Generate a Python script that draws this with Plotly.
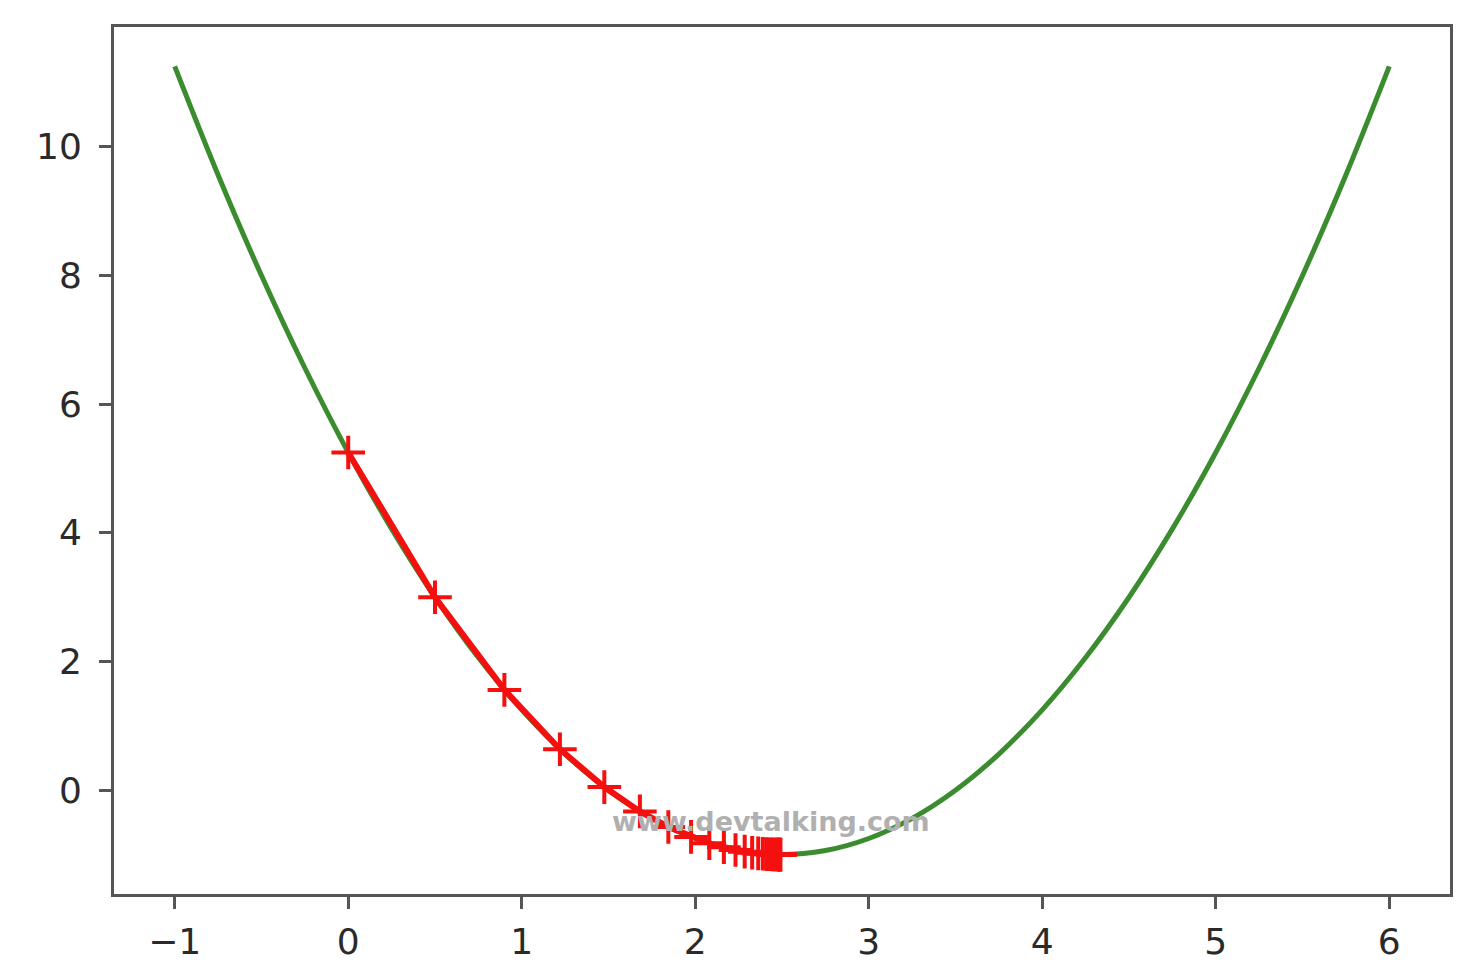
import plotly.graph_objects as go

# curve points
curve_x = [-1, -0.75, -0.5, -0.25, 0, 0.25, 0.5, 0.75, 1, 1.25, 1.5, 1.75, 2, 2.25, 2.5,
           2.75, 3, 3.25, 3.5, 3.75, 4, 4.25, 4.5, 4.75, 5, 5.25, 5.5, 5.75, 6]
curve_y = [11.25, 9.5625, 8, 6.5625, 5.25, 4.0625, 3, 2.0625, 1.25, 0.5625, 0, -0.4375, -0.75, -0.9375, -1,
           -0.9375, -0.75, -0.4375, 0, 0.5625, 1.25, 2.0625, 3, 4.0625, 5.25, 6.5625, 8, 9.5625, 11.25]

# descent steps (red crosses)
step_x = [0, 0.5, 0.9, 1.22, 1.476, 1.681, 1.845, 1.976, 2.081, 2.165, 2.232, 2.285, 2.328,
          2.363, 2.390, 2.412, 2.430, 2.444, 2.455, 2.464, 2.471, 2.477, 2.482, 2.485, 2.488, 2.491]
step_y = [5.25, 3.0, 1.56, 0.638, 0.049, -0.329, -0.571, -0.725, -0.824, -0.887, -0.928, -0.954, -0.971,
          -0.981, -0.988, -0.992, -0.995, -0.997, -0.998, -0.999, -0.999, -0.9995, -0.9997, -0.9998, -0.9999, -0.9999]

x_ticks = [-1, 0, 1, 2, 3, 4, 5, 6]
y_ticks = [0, 2, 4, 6, 8, 10]

fig = go.Figure()
fig.add_trace(go.Scatter(
    x=curve_x, y=curve_y, mode='lines', line=dict(color='#3a8c2e', width=5, shape='spline'),
    showlegend=False
))
fig.add_trace(go.Scatter(
    x=step_x, y=step_y, mode='lines+markers',
    line=dict(color='#f51010', width=6),
    marker=dict(symbol='cross-thin', size=24, line=dict(color='#f51010', width=4)),
    showlegend=False
))

# watermark
fig.add_annotation(
    text='<b>www.devtalking.com</b>', x=0.492, y=0.064, xref='paper', yref='paper',
    showarrow=False, font=dict(family='DejaVu Sans', size=27, color='#b0b0b0')
)

axis_style = dict(
    showgrid=False, zeroline=False, showline=True, mirror=True,
    linecolor='#555555', linewidth=3,
    ticks='outside', ticklen=12, tickwidth=3, tickcolor='#555555',
    tickfont=dict(family='DejaVu Sans', size=36, color='#2a2a2a'),
)
fig.update_xaxes(range=[-1.35, 6.35], tickvals=x_ticks, ticklabelstandoff=2, **axis_style)
fig.update_yaxes(range=[-1.6125, 11.8625], tickvals=y_ticks, ticklabelstandoff=10, **axis_style)

fig.update_layout(
    width=1482, height=978,
    margin=dict(l=106, r=40, t=19, b=92),
    paper_bgcolor='white', plot_bgcolor='white',
)

fig.write_html("out.html")
